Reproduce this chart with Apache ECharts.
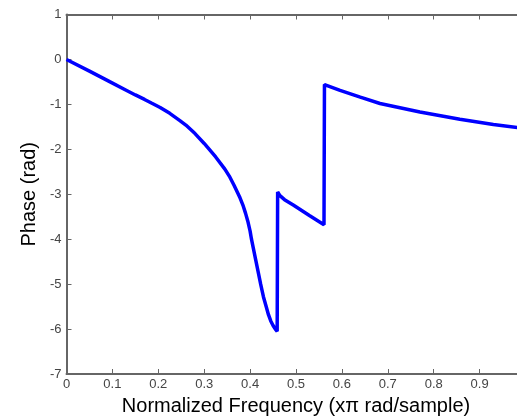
<!DOCTYPE html>
<html>
<head>
<meta charset="utf-8">
<script src="https://cdn.jsdelivr.net/npm/echarts@6/dist/echarts.min.js"></script>
<style>
  html, body { margin: 0; padding: 0; background: #fff; }
  #chart { width: 517px; height: 420px; }
</style>
</head>
<body>
<div id="chart"></div>
<script>
// normalized frequency (x pi rad/sample) and phase (rad)
const freq = [0, 0.05, 0.095, 0.131, 0.15, 0.17, 0.185, 0.204, 0.225, 0.247, 0.26, 0.28, 0.30, 0.325, 0.345, 0.356, 0.365, 0.378, 0.385, 0.39, 0.395, 0.400, 0.403, 0.407, 0.412, 0.418, 0.423, 0.429, 0.435, 0.440, 0.445, 0.450, 0.455, 0.459,
  0.460, 0.465, 0.475, 0.494, 0.530, 0.561,
  0.562, 0.596, 0.640, 0.683, 0.770, 0.857, 0.930, 1.0];
const phase = [0, -0.26, -0.5, -0.69, -0.79, -0.89, -0.97, -1.07, -1.2, -1.36, -1.46, -1.65, -1.87, -2.17, -2.44, -2.62, -2.8, -3.08, -3.26, -3.42, -3.6, -3.82, -4.0, -4.2, -4.45, -4.75, -5.0, -5.28, -5.5, -5.68, -5.82, -5.92, -6.0, -6.05,
  -2.95, -3.03, -3.12, -3.24, -3.48, -3.68,
  -0.56, -0.69, -0.84, -0.98, -1.17, -1.33, -1.45, -1.54];

const xTicks = ['0', '0.1', '0.2', '0.3', '0.4', '0.5', '0.6', '0.7', '0.8', '0.9', '1'];

const axisColor = '#666';
const labelColor = '#444';
const font = 'Liberation Sans, Arial, sans-serif';

const chart = echarts.init(document.getElementById('chart'));

// top / right axes only close the box
const boxAxis = {
  axisLine: { show: true, onZero: false, lineStyle: { color: axisColor, width: 2 } },
  axisTick: { show: true, inside: true, length: 5, lineStyle: { color: axisColor } },
  axisLabel: { show: false },
  splitLine: { show: false },
};

chart.setOption({
  animation: false,
  grid: {
    left: 66.5,
    top: 14.5,
    width: 459,
    height: 359.5,
    outerBoundsMode: 'none'
  },
  xAxis: [
    {
      type: 'value',
      min: 0,
      max: 1,
      interval: 0.1,
      position: 'bottom',
      name: 'Normalized Frequency (x\u03c0 rad/sample)',
      nameLocation: 'middle',
      nameGap: 22,
      nameTextStyle: { color: '#000', fontSize: 20, fontFamily: font },
      axisLine: { show: true, onZero: false, lineStyle: { color: axisColor, width: 2 } },
      axisTick: { show: true, inside: true, length: 5, lineStyle: { color: axisColor } },
      axisLabel: {
        color: labelColor,
        fontSize: 13,
        fontFamily: font,
        margin: 4,
        formatter: (v) => xTicks[Math.round(v * 10)]
      },
      splitLine: { show: false }
    },
    Object.assign({ type: 'value', min: 0, max: 1, interval: 0.1, position: 'top' }, boxAxis)
  ],
  yAxis: [
    {
      type: 'value',
      min: -7,
      max: 1,
      interval: 1,
      position: 'left',
      name: 'Phase (rad)',
      nameLocation: 'middle',
      nameGap: 21,
      nameTextStyle: { color: '#000', fontSize: 20, fontFamily: font },
      axisLine: { show: true, onZero: false, lineStyle: { color: axisColor, width: 2 } },
      axisTick: { show: true, inside: true, length: 5, lineStyle: { color: axisColor } },
      axisLabel: { color: labelColor, fontSize: 13, fontFamily: font, margin: 5 },
      splitLine: { show: false }
    },
    Object.assign({ type: 'value', min: -7, max: 1, interval: 1, position: 'right' }, boxAxis)
  ],
  series: [
    {
      type: 'line',
      data: freq.map((f, i) => [f, phase[i]]),
      showSymbol: false,
      smooth: false,
      lineStyle: { color: '#0000ff', width: 3.5 },
      itemStyle: { color: '#0000ff' }
    }
  ]
});
</script>
</body>
</html>
